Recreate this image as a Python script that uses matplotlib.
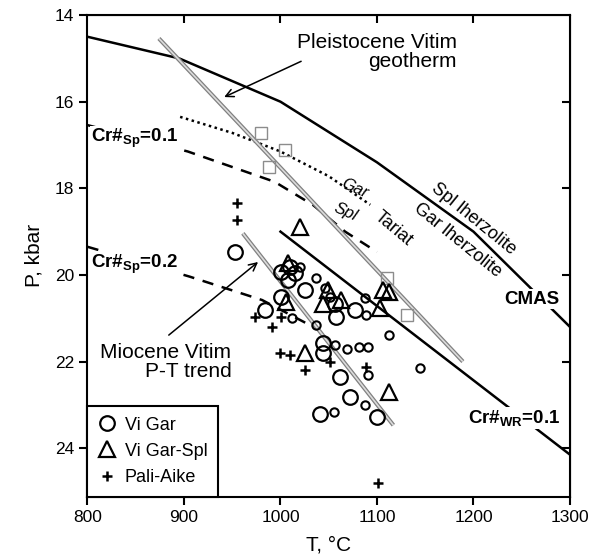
import matplotlib
matplotlib.use('Agg')
import matplotlib.pyplot as plt
import numpy as np

plt.rcParams['font.family'] = ['Liberation Sans', 'DejaVu Sans']
plt.rcParams['mathtext.fontset'] = 'custom'
plt.rcParams['mathtext.rm'] = 'Liberation Sans'
plt.rcParams['mathtext.bf'] = 'Liberation Sans:bold'
plt.rcParams['mathtext.it'] = 'Liberation Sans:italic'

# CMAS Spl/Gar lherzolite boundary
cmas_T = [800, 895, 1000, 1100, 1200, 1300]
cmas_P = [14.5, 15.0, 16.0, 17.4, 19.0, 21.2]
# Cr#WR = 0.1
crwr_T = [1000, 1300]
crwr_P = [19.0, 24.15]
# Tariat Gar/Spl (dotted)
tariat_T = [896, 950, 1000, 1050, 1093]
tariat_P = [16.35, 16.72, 17.15, 17.72, 18.38]
# Cr#Sp = 0.1 and 0.2 (dashed)
sp1_T = [800, 904, 994, 1034, 1067, 1100]
sp1_P = [16.54, 17.15, 17.85, 18.39, 19.0, 19.47]
sp2_T = [800, 906, 981, 1034]
sp2_P = [19.35, 20.04, 20.58, 21.2]
# geotherms (gray)
pleist_T = [874, 1189]
pleist_P = [14.54, 22.0]
mio_T = [961, 1117]
mio_P = [19.04, 23.47]
# Tariat squares
sq_T = [980, 1005, 988, 1110, 1131]
sq_P = [16.73, 17.12, 17.5, 20.08, 20.93]

# Vi Gar (large circles)
gar_T = [953, 1001, 1010, 1015, 1008, 1025, 1001, 984, 1056, 1077, 1058,
         1044, 1044, 1062, 1072, 1041, 1100]
gar_P = [19.46, 19.93, 19.81, 19.96, 20.12, 20.35, 20.50, 20.81, 20.66, 20.81,
         20.97, 21.58, 21.81, 22.35, 22.81, 23.20, 23.27]
# Vi Gar (small circles)
gars_T = [1020, 1037, 1046, 1051, 1088, 1089, 1012, 1037, 1056, 1069, 1081,
          1091, 1112, 1145, 1091, 1055, 1088]
gars_P = [19.81, 20.08, 20.31, 20.50, 20.54, 20.93, 21.00, 21.16, 21.62, 21.70,
          21.66, 21.66, 21.39, 22.16, 22.31, 23.16, 23.00]
# Vi Gar-Spl
spl_T = [1020, 1008, 1006, 1044, 1063, 1049, 1106, 1112, 1103, 1025, 1112]
spl_P = [18.89, 19.73, 20.62, 20.66, 20.58, 20.35, 20.35, 20.39, 20.77, 21.81, 22.70]
# Pali-Aike
pa_T = [955, 955, 974, 991, 1001, 1000, 1010, 1025, 1051, 1089, 1101]
pa_P = [18.35, 18.73, 20.97, 21.20, 20.97, 21.81, 21.85, 22.19, 22.00, 22.12, 24.81]

fig = plt.figure(figsize=(5.92, 5.59), dpi=100)
ax = fig.add_axes([0.1478, 0.1115, 0.815, 0.8615])

ax.plot(cmas_T, cmas_P, color='black', lw=1.8, zorder=2)
ax.plot(crwr_T, crwr_P, color='black', lw=1.8, zorder=2)
ax.plot(tariat_T, tariat_P, color='black', lw=1.8, linestyle=(0, (1, 1.4)), zorder=2)
ax.plot(sp1_T, sp1_P, color='black', lw=1.8, dashes=[4.5, 3.5], zorder=2)
ax.plot(sp2_T, sp2_P, color='black', lw=1.8, dashes=[4.5, 3.5], zorder=2)

for T, P in [(pleist_T, pleist_P), (mio_T, mio_P)]:
    ax.plot(T, P, color='#808080', lw=3.0, solid_capstyle='butt', zorder=3)
    ax.plot(T, P, color='#dcdcdc', lw=1.2, solid_capstyle='butt', zorder=3)

ax.plot(sq_T, sq_P, 's', ms=8, mfc='none', mec='#8c8c8c', mew=1.0, zorder=3)

ax.plot(gar_T, gar_P, 'o', ms=10.5, mfc='none', mec='black', mew=1.6, zorder=4)
ax.plot(gars_T, gars_P, 'o', ms=6, mfc='none', mec='black', mew=1.5, zorder=4)
ax.plot(spl_T, spl_P, '^', ms=11, mfc='none', mec='black', mew=1.6, zorder=4)
ax.plot(pa_T, pa_P, '+', ms=7, mec='black', mew=1.8, zorder=4)

# legend
h1, = ax.plot([], [], 'o', ms=10.5, mfc='none', mec='black', mew=1.6)
h2, = ax.plot([], [], '^', ms=11, mfc='none', mec='black', mew=1.6)
h3, = ax.plot([], [], '+', ms=7, mec='black', mew=1.8)
leg = ax.legend([h1, h2, h3], ['Vi Gar', 'Vi Gar-Spl', 'Pali-Aike'],
                loc='lower left', borderaxespad=0, fontsize=13, fancybox=False,
                handlelength=1.0, handletextpad=0.45, labelspacing=0.5,
                borderpad=0.6, framealpha=1)
leg.get_frame().set_edgecolor('black')
leg.get_frame().set_linewidth(1.5)

# labels
ax.text(1183, 14.85, 'Pleistocene Vitim\ngeotherm', ha='right', va='center',
        fontsize=15, linespacing=1.0)
ax.annotate('', xy=(939, 15.92), xytext=(1024, 15.04),
            arrowprops=dict(arrowstyle='->', color='black', lw=1.1, mutation_scale=14))
ax.text(949, 22.02, 'Miocene Vitim\nP-T trend', ha='right', va='center',
        fontsize=15, linespacing=1.0)
ax.annotate('', xy=(979, 19.66), xytext=(882, 21.43),
            arrowprops=dict(arrowstyle='->', color='black', lw=1.1, mutation_scale=14))

bb = dict(facecolor='white', edgecolor='none', pad=1)
ax.text(804, 16.85, r'Cr#$_{\mathbf{Sp}}$=0.1', fontsize=13.5, fontweight='bold',
        va='center', ha='left', bbox=bb, zorder=5)
ax.text(804, 19.75, r'Cr#$_{\mathbf{Sp}}$=0.2', fontsize=13.5, fontweight='bold',
        va='center', ha='left', bbox=bb, zorder=5)
ax.text(1194, 23.3, r'Cr#$_{\mathbf{WR}}$=0.1', fontsize=13.5, fontweight='bold',
        va='center', ha='left', bbox=bb, zorder=5)
ax.text(1260, 20.56, 'CMAS', fontsize=13.5, fontweight='bold',
        va='center', ha='center', bbox=bb, zorder=5)

ax.text(1200, 18.71, 'Spl lherzolite', fontsize=13, rotation=-39,
        rotation_mode='anchor', ha='center', va='center')
ax.text(1184, 19.19, 'Gar lherzolite', fontsize=13, rotation=-39,
        rotation_mode='anchor', ha='center', va='center')
ax.text(1077, 18.0, 'Gar', fontsize=12, style='italic', rotation=-24,
        rotation_mode='anchor', ha='center', va='center')
ax.text(1067, 18.54, 'Spl', fontsize=12, style='italic', rotation=-24,
        rotation_mode='anchor', ha='center', va='center')
ax.text(1117, 18.94, 'Tariat', fontsize=13, rotation=-40,
        rotation_mode='anchor', ha='center', va='center')

ax.set_xlim(800, 1300)
ax.set_ylim(25.12, 14)
ax.set_xticks(np.arange(800, 1301, 100))
ax.set_yticks(np.arange(14, 25, 2))
ax.tick_params(direction='out', length=6, width=1.5, labelsize=12.5)
for s in ax.spines.values():
    s.set_linewidth(1.5)

top = ax.secondary_xaxis('top')
top.set_xticks(np.arange(900, 1201, 100))
top.tick_params(direction='in', length=6, width=1.5, labeltop=False)
right = ax.secondary_yaxis('right')
right.set_yticks(np.arange(16, 25, 2))
right.tick_params(direction='in', length=6, width=1.5, labelright=False)

ax.set_xlabel('T, °C', fontsize=15, labelpad=8)
ax.set_ylabel('P, kbar', fontsize=15, labelpad=8)

fig.savefig('out.png', dpi=100)
